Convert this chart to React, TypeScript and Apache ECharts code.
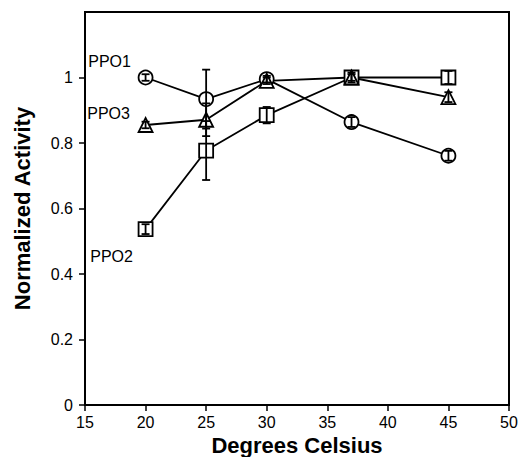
import React, { useEffect, useRef } from "react";
import * as echarts from "echarts";

const temps = [20, 25, 30, 37, 45];
const ppo1 = [1.0, 0.934, 0.995, 0.864, 0.761];
const ppo1Err = [0.01, 0.09, 0.01, 0.015, 0.015];
const ppo2 = [0.537, 0.777, 0.885, 1.0, 1.0];
const ppo2Err = [0.015, 0.09, 0.025, 0.015, 0.02];
const ppo3 = [0.855, 0.871, 0.99, 1.0, 0.94];
const ppo3Err = [0.01, 0.05, 0.01, 0.01, 0.015];
const yTicks = [0, 0.2, 0.4, 0.6, 0.8, 1];
const seriesNames = ["PPO1", "PPO2", "PPO3"];

const FONT = "'Liberation Sans', Arial, Helvetica, sans-serif";

function lineSeries(name: string, ys: number[], symbol: string, labelOffset: number[]) {
  return {
    type: "line",
    name,
    symbol,
    symbolSize: 14,
    z: 2,
    lineStyle: { color: "#000", width: 1.8 },
    itemStyle: { color: "#fff", borderColor: "#000", borderWidth: 1.8 },
    data: temps.map((t, i) =>
      i === 0
        ? {
            value: [t, ys[i]],
            label: {
              show: true,
              position: "inside",
              offset: labelOffset,
              formatter: name,
              color: "#000",
              fontSize: 16,
              fontFamily: FONT,
            },
          }
        : [t, ys[i]]
    ),
  };
}

function errSeries(ys: number[], errs: number[]) {
  return {
    type: "custom",
    z: 5,
    data: temps.map((t, i) => [t, ys[i] - errs[i], ys[i] + errs[i]]),
    renderItem: (params: any, api: any) => {
      const x = api.value(0);
      const lo = api.coord([x, api.value(1)]);
      const hi = api.coord([x, api.value(2)]);
      const w = 4;
      const style = { stroke: "#000", lineWidth: 1.8 };
      return {
        type: "group",
        children: [
          { type: "line", shape: { x1: lo[0], y1: lo[1], x2: hi[0], y2: hi[1] }, style },
          { type: "line", shape: { x1: lo[0] - w, y1: lo[1], x2: lo[0] + w, y2: lo[1] }, style },
          { type: "line", shape: { x1: hi[0] - w, y1: hi[1], x2: hi[0] + w, y2: hi[1] }, style },
        ],
      };
    },
  };
}

export default function App() {
  const ref = useRef<HTMLDivElement>(null);
  useEffect(() => {
    if (!ref.current) return;
    const chart = echarts.init(ref.current, null, { renderer: "svg" });
    chart.setOption({
      animation: false,
      backgroundColor: "#fff",
      textStyle: { fontFamily: FONT },
      grid: {
        left: 85,
        right: 13,
        top: 12,
        bottom: 52,
        containLabel: false,
        outerBoundsMode: "none",
        show: true,
        borderColor: "#000",
        borderWidth: 2,
        backgroundColor: "transparent",
      },
      xAxis: {
        type: "value",
        min: 15,
        max: 50,
        interval: 5,
        name: "Degrees Celsius",
        nameLocation: "middle",
        nameGap: 27,
        nameTextStyle: { fontSize: 22, fontWeight: "bold", color: "#000", fontFamily: FONT },
        axisLine: { show: true, lineStyle: { color: "#000", width: 2 } },
        axisTick: { show: true, length: 6, lineStyle: { color: "#000", width: 1.5 } },
        axisLabel: { color: "#000", fontSize: 16, margin: 9, fontFamily: FONT },
        splitLine: { show: false },
      },
      yAxis: {
        type: "value",
        min: 0,
        max: 1.2,
        interval: 0.2,
        name: "Normalized Activity",
        nameLocation: "middle",
        nameGap: 52,
        nameTextStyle: { fontSize: 22, fontWeight: "bold", color: "#000", fontFamily: FONT },
        axisLine: { show: true, lineStyle: { color: "#000", width: 2 } },
        axisTick: {
          show: true,
          length: 6,
          customValues: yTicks,
          lineStyle: { color: "#000", width: 1.5 },
        },
        axisLabel: {
          color: "#000",
          fontSize: 16,
          margin: 12,
          fontFamily: FONT,
          customValues: yTicks,
          formatter: (v: number) => (v > 1.05 ? "" : String(Math.round(v * 10) / 10)),
        },
        splitLine: { show: false },
      },
      series: [
        lineSeries(seriesNames[0], ppo1, "circle", [-36, -16]),
        lineSeries(seriesNames[1], ppo2, "rect", [-34, 27]),
        lineSeries(seriesNames[2], ppo3, "triangle", [-37, -11]),
        errSeries(ppo1, ppo1Err),
        errSeries(ppo2, ppo2Err),
        errSeries(ppo3, ppo3Err),
      ],
    });
    return () => chart.dispose();
  }, []);
  return (
    <div
      ref={ref}
      style={{ position: "absolute", left: 0, top: 0, width: 522, height: 457 }}
    />
  );
}
